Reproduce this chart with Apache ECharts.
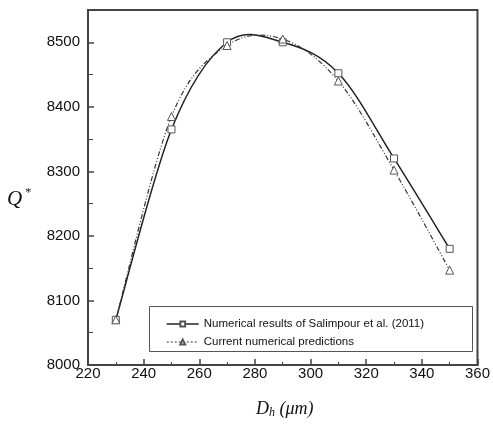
<!DOCTYPE html>
<html>
<head>
<meta charset="utf-8">
<script src="https://cdn.jsdelivr.net/npm/echarts@6/dist/echarts.min.js"></script>
<style>
html,body{margin:0;padding:0;background:#fff;}
#chart{width:493px;height:425px;}
</style>
</head>
<body>
<div id="chart"></div>
<script>
// hydraulic diameter (um)
var dh = [230, 250, 270, 290, 310, 330, 350];
// Salimpour et al. (2011)
var salimpour = [8070, 8365, 8500, 8500, 8452, 8320, 8180];
// current predictions
var current = [8070, 8385, 8495, 8505, 8440, 8302, 8147];
var legendNames = ['Numerical results of Salimpour et al. (2011)', 'Current numerical predictions'];

function pairs(xs, ys){
	var out = [];
	for(var i=0;i<xs.length;i++){
		out.push([xs[i], ys[i]]);
	}
	return out;
}

// smooth curve through the data points (catmull-rom, in pixel space)
function splineItem(ys, style){
	return function(params, api){
		if(params.dataIndex !== 0) return;
		var p = [];
		for(var i=0;i<dh.length;i++){
			p.push(api.coord([dh[i], ys[i]]));
		}
		var d = 'M' + p[0][0] + ' ' + p[0][1];
		for(var i=0;i<p.length-1;i++){
			var p0 = p[i-1] || p[i], p1 = p[i], p2 = p[i+1], p3 = p[i+2] || p[i+1];
			var c1x = p1[0] + (p2[0]-p0[0])/6, c1y = p1[1] + (p2[1]-p0[1])/6;
			var c2x = p2[0] - (p3[0]-p1[0])/6, c2y = p2[1] - (p3[1]-p1[1])/6;
			d += ' C' + c1x + ' ' + c1y + ' ' + c2x + ' ' + c2y + ' ' + p2[0] + ' ' + p2[1];
		}
		return {
			type: 'path',
			shape: {pathData: d},
			style: style
		};
	};
}

var myChart = echarts.init(document.getElementById('chart'));
var axisCol = '#444';
var option = {
	animation: false,
	grid: {
		left: 88, right: 11, top: 10, bottom: 60,
		show: true, borderColor: axisCol, borderWidth: 2
	},
	legend: {
		orient: 'vertical',
		left: 161, top: 313, z: 20,
		itemWidth: 32, itemHeight: 6, itemGap: 6,
		data: [
			{name: legendNames[0], lineStyle: {opacity: 1, width: 1.5, color: '#222'}},
			{name: legendNames[1], lineStyle: {opacity: 1, width: 1.2, color: '#333', type: [2, 2]}}
		],
		textStyle: {fontFamily: 'Liberation Sans', fontSize: 11.5, color: '#111'}
	},
	xAxis: {
		type: 'value', min: 220, max: 360, interval: 20,
		axisLine: {lineStyle: {color: axisCol, width: 2}},
		axisTick: {inside: true, length: 6, lineStyle: {color: axisCol, width: 1.5}},
		minorTick: {show: true, splitNumber: 2, length: 3, lineStyle: {color: axisCol}},
		splitLine: {show: false},
		axisLabel: {margin: 1, color: '#111', fontFamily: 'Liberation Sans', fontSize: 15}
	},
	yAxis: {
		type: 'value', min: 8000, max: 8550, interval: 100,
		axisLine: {show: true, lineStyle: {color: axisCol, width: 2}},
		axisTick: {show: true, inside: true, length: 6, lineStyle: {color: axisCol, width: 1.5}},
		minorTick: {show: true, splitNumber: 2, length: 5, lineStyle: {color: axisCol}},
		splitLine: {show: false},
		axisLabel: {
			margin: 8, color: '#111', fontFamily: 'Liberation Sans', fontSize: 15,
			showMaxLabel: false,
			formatter: function(v){ return v % 100 === 0 ? String(v) : ''; }
		}
	},
	graphic: [
		{
			type: 'rect', left: 149, top: 306, z: 1,
			shape: {width: 323, height: 45},
			style: {fill: '#fff', stroke: '#555', lineWidth: 1}
		},
		{
			type: 'text', left: 7, top: 187,
			style: {
				text: '{q|Q}{s|*}',
				rich: {
					q: {fontFamily: 'Liberation Serif', fontStyle: 'italic', fontSize: 21, fill: '#111'},
					s: {fontFamily: 'Liberation Serif', fontSize: 12, fill: '#111', verticalAlign: 'top', padding: [0,0,12,3]}
				}
			}
		},
		{
			type: 'text', left: 256, top: 400,
			style: {
				text: '{d|D}{h|h}{d| (}{d|\u03bcm}{d|)}',
				rich: {
					d: {fontFamily: 'Liberation Serif', fontStyle: 'italic', fontSize: 18, fill: '#111'},
					h: {fontFamily: 'Liberation Serif', fontStyle: 'italic', fontSize: 12, fill: '#111', padding: [8,0,0,0]}
				}
			}
		}
	],
	series: [
		{
			name: legendNames[0], type: 'line',
			data: pairs(dh, salimpour),
			symbol: 'rect', symbolSize: 7,
			itemStyle: {color: '#fff', borderColor: '#555', borderWidth: 1},
			lineStyle: {opacity: 0},
			z: 10
		},
		{
			name: legendNames[1], type: 'line',
			data: pairs(dh, current),
			symbol: 'triangle', symbolSize: 8,
			itemStyle: {color: '#fff', borderColor: '#555', borderWidth: 1},
			lineStyle: {opacity: 0},
			z: 10
		},
		{
			type: 'custom', data: pairs(dh, salimpour), silent: true, z: 5,
			renderItem: splineItem(salimpour, {fill: null, stroke: '#222', lineWidth: 1.5})
		},
		{
			type: 'custom', data: pairs(dh, current), silent: true, z: 5,
			renderItem: splineItem(current, {fill: null, stroke: '#333', lineWidth: 1.2, lineDash: [5, 2, 1, 2, 1, 2]})
		}
	]
};
myChart.setOption(option);
</script>
</body>
</html>
